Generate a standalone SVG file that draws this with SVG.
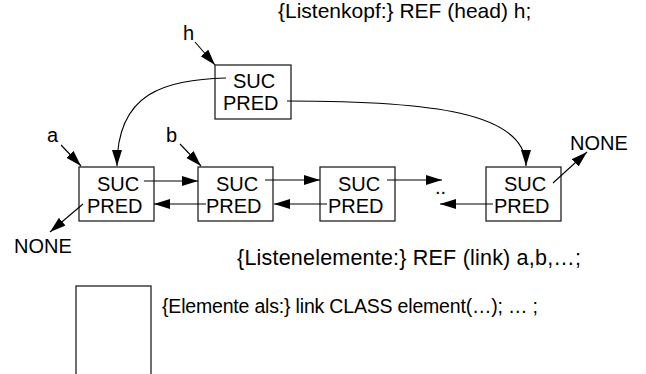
<svg xmlns="http://www.w3.org/2000/svg" width="646" height="374" viewBox="0 0 646 374">
<style>
text{font-family:"Liberation Sans",Arial,sans-serif;font-size:20px;fill:#000}
.cap{font-size:21px}
.box{fill:#fff;stroke:#222;stroke-width:1.3}
.c{fill:none;stroke:#000;stroke-width:1.1}
</style>
<defs>
<marker id="ah" markerUnits="userSpaceOnUse" markerWidth="17" markerHeight="11" refX="16" refY="5" orient="auto">
<path d="M0,0 L16,5 L0,10 z" fill="#000"/>
</marker>
</defs>
<rect width="646" height="374" fill="#fff"/>
<text class="cap" x="278" y="18">{Listenkopf:} REF (head) h;</text>
<text x="237" y="265" style="font-size:21.5px" textLength="344" lengthAdjust="spacing">{Listenelemente:} REF (link) a,b,…;</text>
<text x="162" y="313" style="font-size:19.5px" textLength="376" lengthAdjust="spacing">{Elemente als:} link CLASS element(…); … ;</text>
<g id="head">
<rect class="box" x="215" y="65" width="76" height="54"/>
<text x="233" y="88">SUC</text>
<text x="223" y="110">PRED</text>
</g>
<g id="e1">
<rect class="box" x="79" y="167" width="75" height="54"/>
<text x="97" y="190.5">SUC</text>
<text x="87" y="212.5">PRED</text>
</g>
<g id="e2">
<rect class="box" x="198" y="167" width="75" height="54"/>
<text x="216" y="190.5">SUC</text>
<text x="206" y="212.5">PRED</text>
</g>
<g id="e3">
<rect class="box" x="320" y="167" width="75" height="54"/>
<text x="338" y="190.5">SUC</text>
<text x="328" y="212.5">PRED</text>
</g>
<g id="e4">
<rect class="box" x="486" y="167" width="75" height="54"/>
<text x="504" y="190.5">SUC</text>
<text x="494" y="212.5">PRED</text>
</g>
<g id="elem">
<rect class="box" x="76" y="286" width="75" height="100"/>
</g>
<g id="labels">
<text x="183" y="40">h</text>
<text x="47" y="142">a</text>
<text x="166" y="142">b</text>
<text x="570" y="150">NONE</text>
<text x="14" y="253">NONE</text>
<text x="435" y="194">..</text>
</g>
<g id="connectors" class="c">
<path class="c" marker-end="url(#ah)" d="M195,42 L215,65"/>
<path class="c" marker-end="url(#ah)" d="M61,145 L81,166"/>
<path class="c" marker-end="url(#ah)" d="M180,144 L201,166"/>
<path class="c" marker-end="url(#ah)" d="M226,78 C165,80 117,92 117,166"/>
<path class="c" marker-end="url(#ah)" d="M287,101 C430,101 526,112 526,166"/>
<path class="c" marker-end="url(#ah)" d="M144,181 L198,181"/>
<path class="c" marker-end="url(#ah)" d="M206,204 L154,204"/>
<path class="c" marker-end="url(#ah)" d="M265,180 L320,180"/>
<path class="c" marker-end="url(#ah)" d="M327,204 L274,204"/>
<path class="c" marker-end="url(#ah)" d="M387,180 L442,180"/>
<path class="c" marker-end="url(#ah)" d="M493,204 L440,204"/>
<path class="c" marker-end="url(#ah)" d="M553,183 L587,152"/>
<path class="c" marker-end="url(#ah)" d="M83,204 L50,232"/>
</g>
</svg>
